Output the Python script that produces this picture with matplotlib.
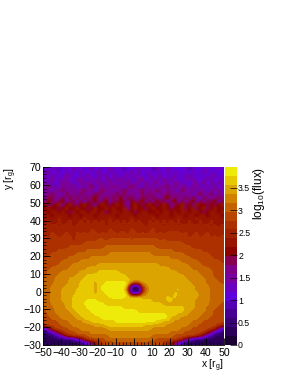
import numpy as np
import matplotlib
matplotlib.use('Agg')
import matplotlib.pyplot as plt
from matplotlib.colors import ListedColormap, BoundaryNorm
from matplotlib.ticker import MultipleLocator

plt.rcParams['font.family'] = ['Liberation Sans', 'DejaVu Sans']
plt.rcParams['mathtext.fontset'] = 'custom'
plt.rcParams['mathtext.rm'] = 'Liberation Sans'
plt.rcParams['mathtext.it'] = 'Liberation Sans'

# palette steps, bottom to top
level_colors = ['#1a0033', '#2b0058', '#3a0075', '#480092', '#5400b4', '#6000dc',
                '#6c00c0', '#7a00a0', '#80008a', '#880050', '#8c0400', '#961400',
                '#a22200', '#ac3000', '#b84600', '#c46400', '#d08200', '#dca400',
                '#e8c800', '#eeea0a']
z_max = 3.95

# one character per cell (2 r_g wide), 0-9 then A-J = colour step, first row is the top of the map
flux_rows = [
    '6566456576 5657566576 5645566656 4756665556 4655665565',
    '6756656665 7565675666 6566757566 5665756656 5665756655',
    '7576568665 6676576757 6576676657 6675667566 7656566756',
    '6685767657 8667685776 7867667857 6768676657 6765767566',
    '7675687766 7786778687 6778677686 7867768766 5776857676',
    '7967687786 7689678778 8768977687 7687968778 6786676857',
    '8768797877 8978689787 7898778978 7987887697 7868767786',
    '7897869887 9787998788 9897887979 8788978877 8689779687',
    '8998798989 7989A88989 8A89978998 9879A89889 7986987898',
    '8A989A7997 9799A89A79 9A97A99A89 8A9979A798 9A79899A79',
    'A99AB8AB99 ABA97ABA9A BA97ABA9AB A9ABA79AB9 A8BAA9A9AB',
    'ABAA9ABAAB AA9ABAABAB AAB8ABAA9A BAABA9AAB9 AB9AB9ABAA',
    'BABBABA9BA BBABBAB9AB BABBA9ABBA ABABBABABB ABBA9ABBAB',
    'BBABBBBABB ABBBABBBBB ABBBBABBBB BABBBABBBA BBABBABBBA',
    'BBBBCBBBBB BCBBBBBBCB BBBBCBBBBB CBBBBBBCBB BBCBBBBBBB',
    'BCBBCBBCBB CBCBCBCBCB CBCBCBCBBC BCBCBCBCBB CBBCBBCBBB',
    'CBCCBCCCBC CCBCCCCBCC CCBCCCCCBC CCCBCCCBCC BCCBCCBCBC',
    'CCCCCCCCCC CCCDCCCCDC CCCCDCCCCC DCCCCDCCCC CCCCCCCCCC',
    'CCDCCCDCCD CDCDDCDCDD CDDCDDCDCD DCDCDCDDCD CCDCCDCCCC',
    'DCDDCDDDCD DDDDDDDDDD DDDDEDDDDD DDDDDDDDDD CDDCDDCDCD',
    'DDDDDDDDCD DDDDDEEDEE EEEEDEEEEE EEDEDDDDDD DDDDDDDDDD',
    'DDDDDDDDDD DEEEEEEEEE EEEEEEEEEE EEEEEEEEED DDDDDDDDDD',
    'DDDDDDDEEE EEEEEEEFFF FFFFFFFFFF FEEEEEEEEE EDDDDDDDDD',
    'DDDDEEEEEE EEFFFFFFFF FFFFFFFFFF FFFFFFEEEE EEEEDDDDDD',
    'DDEEEEEEEF FFFFFFFFGG GGGGGGGGGG FFFFFFFFFE EEEEEEDDDD',
    'DEEEEEEFFF FFFGGGGGGG GGGGGGGGGG GGGGGFFFFF FEEEEEEDDD',
    'EEEEEFFFFF GGGGGGGGGG GGGGGGGGGG GGGGGGGGFF FFFEEEEEED',
    'EEEEFFFFGG GGGGGHHHHH HHHHHHHHHH HHGGGGGGGG FFFFEEEEEE',
    'EEFFFFFGGG GGHHHHHHHH HHHHHHHHHH HHHHHGGGGG GFFFFFEEEE',
    'EFFFFGGGGG HHHHHIIIII IHHHHHHHHH HHHHHHHGGG GGGFFFFEEE',
    'EFFFGGGGGH HHIIIIIIII IIIHHHHHHH HHHHHHHHHG GGGGFFFEEE',
    'FFFGGGGHHH HIIIIIIIII IIIIHHHHHH HHHHHHHHHH GGGGGFFFEE',
    'FFFGGGGHHH IIIIHIIJJJ JJJIHFGHHH HHHHHHHHHH HGGGGFFFFE',
    'FFGGGGHHHH IIIIHIJJJJ JJJI525EGH HHHHHHIHHH HHGGGGFFFF',
    'FFGGGHHHHI IIIIHIJJJJ JJJD000CFH HHHHHHHIHH HHGGGGFFFF',
    'FFGGGHHHHI IIIIHIIJJJ JJJI646EGH HHHHHHIHHH HHHGGGFFFF',
    'FFGGGHHHII IIIIIIIIJJ JJJIIIIHHH HHHHIHIHHH HHHGGGFFFF',
    'FFGGGHHHII IIJJJIIIII IIIIIIIIII HHHHIIHHHH HHGGGGFFFF',
    'FFGGGGHHII IJJJJJJIII IIIIIIIIII IIIHHHHHHH HHGGGGFFFE',
    'FFFGGGHHII IIJJJJJJJJ JJIIIIIIII IIIIIIIIIH HHGGGFFFEE',
    'EFFGGGGHHI IIIJJJJJJJ JJJJJJIIII IIIIIIIIIH HGGGGFFEEE',
    'EFFFGGGGHH IIIIJJJJJJ JJJJJJJJJJ JJJJIIIHHH GGGGFFFEEE',
    'EEFFFGGGGH HIIIIIJJJJ JJJJJJJJJJ JJJJJHHHGG GGGFFFEEEE',
    'EEEEFFFGGG GHHIIIIIII JJJJJJJJJJ JIIHHHGGGG GFFFEEEEEE',
    'DEEEEFFFGG GGGGHHHIII IIIIIIIIHH HHHHGGGGGG FFFEEEEEDC',
    '58CEEEEFFF GGGGGGGGHH HHHHHHHHHH GGGGGGGGFF FEEEEEDC85',
    '1358BDEEEF FFFGGGGGGG GGGGGGGGGG GGGGGFFFFE EEEEDB8531',
    '111358CDEE EEFFFFFFGG GGGGGGGGGG FFFFFFEEEE EEDB853111',
    '1111111135 8CDEEEEFFF FFFFFFFFFF FEEEEEEDC8 5311111111',
    '1111111111 1358ACDEEE EEEEEEEEEE EEEDCA8531 1111111111',
]
digits = '0123456789ABCDEFGHIJ'
bar_ticks = [0, 0.5, 1, 1.5, 2, 2.5, 3, 3.5]
bar_labels = ['0', '0.5', '1', '1.5', '2', '2.5', '3', '3.5']

steps = np.linspace(0, z_max, len(level_colors) + 1)
cmap = ListedColormap(level_colors)
norm = BoundaryNorm(steps, cmap.N)

levels = np.array([[digits.index(c) for c in r.replace(' ', '')] for r in flux_rows])
log_flux = steps[levels] + 0.5 * (steps[1] - steps[0])

fig = plt.figure(figsize=(2.94, 3.81), dpi=100)
W, H = 294.0, 381.0
ax = fig.add_axes([43.3 / W, 1 - 345.0 / H, 180.7 / W, 177.7 / H])
# the grainy part above y=40 is blended, the disc below keeps sharp colour bands
ax.imshow(log_flux[:15], extent=[-50, 50, 40, 70], origin='upper', aspect='auto',
          cmap=cmap, norm=norm, interpolation='bilinear', interpolation_stage='rgba')
ax.imshow(log_flux[15:], extent=[-50, 50, -30, 40], origin='upper', aspect='auto',
          cmap=cmap, norm=norm, interpolation='bicubic')
ax.set_xlim(-50, 50)
ax.set_ylim(-30, 70)
for s in ['top', 'right']:
    ax.spines[s].set_visible(False)
for s in ['left', 'bottom']:
    ax.spines[s].set_linewidth(0.6)

ax.xaxis.set_major_locator(MultipleLocator(10))
ax.xaxis.set_minor_locator(MultipleLocator(2))
ax.yaxis.set_major_locator(MultipleLocator(10))
ax.yaxis.set_minor_locator(MultipleLocator(2))
ax.tick_params(which='major', direction='in', length=5, width=0.6, labelsize=7.6, pad=1.5)
ax.tick_params(which='minor', direction='in', length=2.5, width=0.5)
ax.tick_params(axis='x', pad=2.5)

fig.text(223.5 / W, 1 - 368.5 / H, 'x [r$_{g}$]', ha='right', va='baseline', fontsize=7.4)
fig.text(11 / W, 1 - 167 / H, 'y [r$_{g}$]', ha='center', va='top', rotation=90, fontsize=7.4)

cax = fig.add_axes([224.8 / W, 1 - 345.0 / H, 12.6 / W, 177.7 / H])
cax.pcolormesh([0, 1], steps, np.array(steps[:-1]).reshape(-1, 1) + 0.01, cmap=cmap, norm=norm)
cax.set_ylim(0, z_max)
cax.set_xticks([])
cax.set_yticks(bar_ticks)
cax.set_yticklabels(bar_labels)
cax.yaxis.tick_right()
cax.tick_params(axis='y', direction='in', length=5, width=0.5, labelsize=6.3, pad=0.5)
for s in cax.spines.values():
    s.set_visible(False)
fig.text(259 / W, 1 - 167 / H, 'log$_{10}$(flux)', ha='center', va='top', rotation=90, fontsize=8.6)

fig.savefig('out.png', dpi=100)
